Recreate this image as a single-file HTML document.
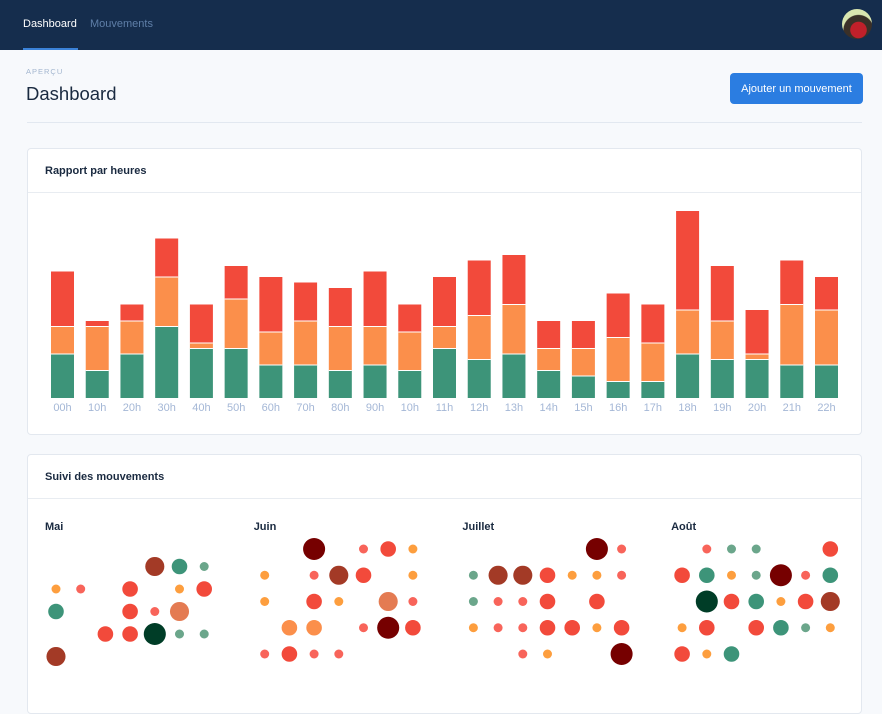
<!DOCTYPE html>
<html><head><meta charset="utf-8"><style>
*{box-sizing:border-box;margin:0;padding:0}
body{width:882px;height:688px;overflow:hidden;background:#f7f9fc;font-family:"Liberation Sans",sans-serif;position:relative}
.nav{position:absolute;left:0;top:0;width:882px;height:50px;background:#152d4d}
.tab{position:absolute;top:18px;font-size:11px}
.card{position:absolute;left:27px;width:835px;background:#fff;border:1px solid #e3e8ef;border-radius:4px}
.ch{height:44px;border-bottom:1px solid #e8ecf1;font-size:11px;font-weight:bold;color:#1a2a40;padding:16px 0 0 17px}
</style></head><body>
<div class="nav">
 <div class="tab" style="left:23px;color:#fff">Dashboard</div>
 <div style="position:absolute;left:23px;top:48px;width:55px;height:2px;background:#3b82d8"></div>
 <div class="tab" style="left:90px;color:#5f7fa8">Mouvements</div>
 <div style="position:absolute;left:842px;top:9px;width:30px;height:30px;border-radius:50%;background:radial-gradient(circle at 55% 70%,#c0202a 0 30%,#3a3028 32% 55%,#d9e6b0 58%)"></div>
</div>
<div style="position:absolute;left:26px;top:67px;font-size:7.5px;letter-spacing:1px;color:#a3b6cf">APERÇU</div>
<div style="position:absolute;left:26px;top:83px;font-size:18.5px;color:#1a2a40">Dashboard</div>
<div style="position:absolute;left:730px;top:73px;width:133px;height:31px;background:#2b7de1;border-radius:4px;color:#fff;font-size:11px;text-align:center;line-height:32px;white-space:nowrap">Ajouter un mouvement</div>
<div style="position:absolute;left:27px;top:122px;width:835px;height:1px;background:#e2e8f0"></div>

<div class="card" style="top:148px;height:287px">
 <div class="ch">Rapport par heures</div>
 <svg id="bars" width="835" height="242" style="position:absolute;left:-1px;top:43px"></svg>
</div>

<div class="card" style="top:454px;height:260px">
 <div class="ch">Suivi des mouvements</div>
 <svg id="dots" width="835" height="200" style="position:absolute;left:-1px;top:44px"></svg>
</div>

<script>
const hours=["00h","10h","20h","30h","40h","50h","60h","70h","80h","90h","10h","11h","12h","13h","14h","15h","16h","17h","18h","19h","20h","21h","22h"];
const greenVals=[8,5,8,13,9,9,6,6,5,6,5,9,7,8,5,4,3,3,8,7,7,6,6];
const orangeVals=[5,8,6,9,1,9,6,8,8,7,7,4,8,9,4,5,8,7,8,7,1,11,10];
const redVals=[10,1,3,7,7,6,10,7,7,10,5,9,10,9,5,5,8,7,18,10,8,8,6];
const NS="http://www.w3.org/2000/svg";
function mk(p,t,a){const e=document.createElementNS(NS,t);for(const k in a)e.setAttribute(k,a[k]);p.appendChild(e);return e;}
const baseY=398-192, unit=5.5, x0=51-27, step=764/22, bw=23;
const xScale=i=>x0+i*step;
const yLen=v=>v*unit;
const bars=document.getElementById('bars');
const series=[[greenVals,'#3d9479','green'],[orangeVals,'#fb8f4b','orange'],[redVals,'#f24a3b','red']];
hours.forEach((h,i)=>{
  let acc=0;
  series.forEach(([vals,col,nm])=>{
    const hgt=yLen(vals[i]);
    const r=mk(bars,'rect',{x:xScale(i),y:baseY-yLen(acc)-hgt,width:bw,height:hgt,fill:col});
    
    
    if(acc>0){const l=mk(bars,'line',{x1:xScale(i),x2:xScale(i)+bw,y1:baseY-yLen(acc),y2:baseY-yLen(acc),stroke:'#fff','stroke-width':1});
      
      }
    acc+=vals[i];
  });
  const t=mk(bars,'text',{x:xScale(i)+bw/2,y:baseY+13,'text-anchor':'middle','font-size':11,fill:'#a4b7d6','font-family':'Liberation Sans'});
  t.textContent=h;
  
  
});

const months=["Mai","Juin","Juillet","Août"];
const monthWeeks=[6,5,5,5];
const colors={o:'#fd9e3e',c:'#f8645a',r:'#f24a3b',om:'#fb8f4b',s:'#e47b52',b:'#a33a26',d:'#760000',t:'#3d9479',lt:'#6ba68b',g:'#003d27'};
const maiDots=["1,4,4.5,b","1,5,3,t","1,6,1,lt","2,0,1,o","2,1,1,c","2,3,3,r","2,5,1,o","2,6,3,r","3,0,3,t","3,3,3,r","3,4,1,c","3,5,4.5,s","4,2,3,r","4,3,3,r","4,4,6,g","4,5,1,lt","4,6,1,lt","5,0,4.5,b"];
const juinDots=["0,2,6,d","0,4,1,c","0,5,3,r","0,6,1,o","1,0,1,o","1,2,1,c","1,3,4.5,b","1,4,3,r","1,6,1,o","2,0,1,o","2,2,3,r","2,3,1,o","2,5,4.5,s","2,6,1,c","3,1,3,om","3,2,3,om","3,4,1,c","3,5,6,d","3,6,3,r","4,0,1,c","4,1,3,r","4,2,1,c","4,3,1,c"];
const juilletDots=["0,5,6,d","0,6,1,c","1,0,1,lt","1,1,4.5,b","1,2,4.5,b","1,3,3,r","1,4,1,o","1,5,1,o","1,6,1,c","2,0,1,lt","2,1,1,c","2,2,1,c","2,3,3,r","2,5,3,r","3,0,1,o","3,1,1,c","3,2,1,c","3,3,3,r","3,4,3,r","3,5,1,o","3,6,3,r","4,2,1,c","4,3,1,o","4,6,6,d"];
const aoutDots=["0,1,1,c","0,2,1,lt","0,3,1,lt","0,6,3,r","1,0,3,r","1,1,3,t","1,2,1,o","1,3,1,lt","1,4,6,d","1,5,1,c","1,6,3,t","2,1,6,g","2,2,3,r","2,3,3,t","2,4,1,o","2,5,3,r","2,6,4.5,b","3,0,1,o","3,1,3,r","3,3,3,r","3,4,3,t","3,5,1,lt","3,6,1,o","4,0,3,r","4,1,1,o","4,2,3,t"];
const allDots=[maiDots,juinDots,juilletDots,aoutDots];
const dots=document.getElementById('dots');
const monthX=m=>18+m*208.7, colX=c=>11+c*24.7, rScale=v=>4.5*Math.sqrt(v);
const top0=548-498;
months.forEach((m,mi)=>{
  const t=mk(dots,'text',{x:monthX(mi),y:31,'font-size':11,'font-weight':'bold',fill:'#1a2a40','font-family':'Liberation Sans'});
  t.textContent=m;
  
  
  const weeks=monthWeeks[mi], rowStep=(weeks===6?112.5/5:105/4), rowTop=(weeks===6?45:top0);
  allDots[mi].forEach(s=>{
    const [r,c,v,k]=s.split(',');
    const e=mk(dots,'circle',{cx:monthX(mi)+colX(+c),cy:rowTop+(+r)*rowStep,r:rScale(+v),fill:colors[k]});
    
    
  });
});
</script>
</body></html>
